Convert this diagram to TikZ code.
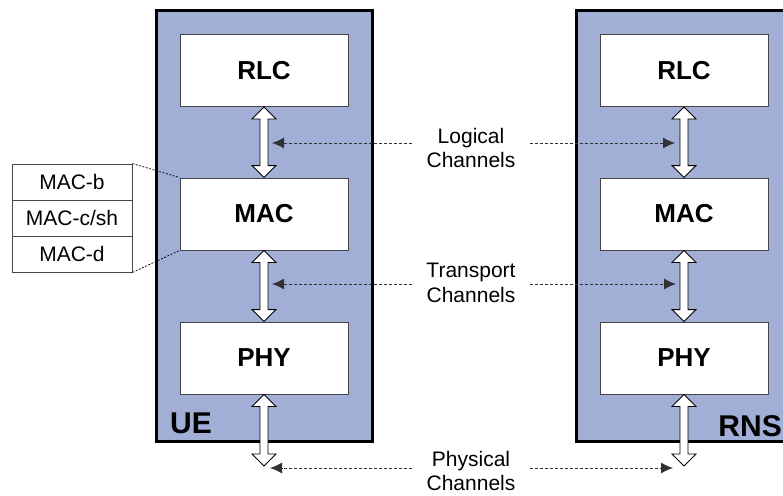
\documentclass[tikz,border=0pt]{standalone}
\usepackage{fontspec}
\setmainfont{Liberation Sans}
\usetikzlibrary{arrows.meta,calc}
\definecolor{panelblue}{RGB}{161,174,214}
\definecolor{boxgray}{RGB}{70,70,70}
\definecolor{dashgray}{RGB}{50,50,50}
\newcommand\dblarr[2]{%
  \draw[dblarrow] let \p1=(#1), \p2=(#2) in
    (\x1,\y1) -- (\x1+12,\y1-12) -- (\x1+4,\y1-12) -- (\x1+4,\y2+12) --
    (\x1+12,\y2+12) -- (\x1,\y2) -- (\x1-12,\y2+12) -- (\x1-4,\y2+12) --
    (\x1-4,\y1-12) -- (\x1-12,\y1-12) -- cycle;}
\tikzset{
  panel/.style={draw=black, line width=3pt, fill=panelblue},
  layer/.style={draw=boxgray, line width=0.9pt, fill=white, minimum width=168pt,
    minimum height=72pt, inner sep=0pt,
    font=\fontsize{26}{30}\selectfont\bfseries},
  sub/.style={draw=boxgray, line width=0.9pt, fill=white, minimum width=120pt,
    minimum height=36pt, inner sep=0pt, font=\fontsize{21}{24}\selectfont},
  chlabel/.style={align=center, inner xsep=14pt, inner ysep=0pt,
    font=\fontsize{21}{24.5}\selectfont},
  big/.style={font=\fontsize{30}{34}\selectfont\bfseries, inner sep=0pt},
  dblarrow/.style={draw=black, line width=0.9pt, fill=white, line join=miter},
  chan/.style={draw=dashgray, line width=1pt, dash pattern=on 3pt off 2pt,
    -{Latex[length=12pt,width=11pt]}},
  link/.style={draw=black, line width=0.7pt, dash pattern=on 2pt off 1.5pt},
}
\begin{document}
\begin{tikzpicture}[x=1pt,y=-1pt]
\useasboundingbox (0,0) rectangle (783,495);
% panels
\draw[panel] (156,11) rectangle (372,441);
\draw[panel] (576,11) rectangle (796,441);
\node[big, anchor=base west] (ue) at (170,433) {UE};
\node[big, anchor=base east] (rns) at (782,436) {RNS};
% layers UE
\node[layer] (rlcU) at (264,70.5) {RLC};
\node[layer] (macU) at (264,214) {MAC};
\node[layer] (phyU) at (264,358) {PHY};
% layers RNS
\node[layer] (rlcR) at (684,70.5) {RLC};
\node[layer] (macR) at (684,214) {MAC};
\node[layer] (phyR) at (684,358) {PHY};
% sub boxes
\node[sub] (macb) at (72,182) {MAC-b};
\node[sub] (macc) at (72,218) {MAC-c/sh};
\node[sub] (macd) at (72,254) {MAC-d};
\draw[link] (macb.north east) -- (macU.north west);
\draw[link] (macd.south east) -- (macU.south west);
% physical ends
\coordinate (endU) at (264,466);
\coordinate (endR) at (684,466);
% double arrows
\dblarr{rlcU.south}{macU.north}
\dblarr{macU.south}{phyU.north}
\dblarr{phyU.south}{endU}
\dblarr{rlcR.south}{macR.north}
\dblarr{macR.south}{phyR.north}
\dblarr{phyR.south}{endR}
% channel labels
\node[chlabel] (logt) at (471,148) {Logical\\Channels};
\node[chlabel] (trt) at (471,283) {Transport\\Channels};
\node[chlabel] (pht) at (471,471) {Physical\\Channels};
\coordinate (logU) at (272,143);
\coordinate (logR) at (675,143);
\coordinate (trU) at (272,284);
\coordinate (trR) at (676,284);
\coordinate (phU) at (270,468);
\coordinate (phR) at (673,468);
\draw[chan] (logt.west |- logU) -- (logU);
\draw[chan] (logt.east |- logR) -- (logR);
\draw[chan] (trt.west |- trU) -- (trU);
\draw[chan] (trt.east |- trR) -- (trR);
\draw[chan] (pht.west |- phU) -- (phU);
\draw[chan] (pht.east |- phR) -- (phR);
\end{tikzpicture}
\end{document}
